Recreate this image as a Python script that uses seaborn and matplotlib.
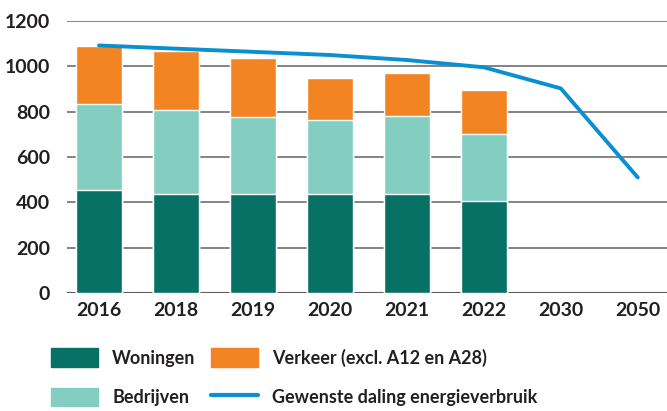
import pandas as pd
import numpy as np
import seaborn as sns
import matplotlib.pyplot as plt
from matplotlib.patches import Patch
from matplotlib.lines import Line2D

# Data
jaren = ['2016', '2018', '2019', '2020', '2021', '2022', '2030', '2050']
jaren_gemeten = ['2016', '2018', '2019', '2020', '2021', '2022']
woningen = [455, 437, 437, 437, 437, 406]
bedrijven = [378, 370, 339, 326, 343, 295]
verkeer = [255, 259, 258, 184, 189, 194]
gewenst = [1091, 1077, 1063, 1049, 1027, 995, 902, 510]

kleur_won = '#077165'
kleur_bed = '#84cec1'
kleur_ver = '#f38423'
kleur_lijn = '#0a8fd0'
tekst = '#231f20'

sns.set_style('white')
plt.rcParams['font.family'] = ['Lato', 'DejaVu Sans']

df = pd.DataFrame({'jaar': jaren_gemeten, 'woningen': woningen,
                   'bedrijven': bedrijven, 'verkeer': verkeer})
df['top_bed'] = df['woningen'] + df['bedrijven']
df['top_ver'] = df['top_bed'] + df['verkeer']

fig = plt.figure(figsize=(6.67, 4.11), dpi=100)
ax = fig.add_axes([0.1, 0.2864, 0.9, 0.6632])

# gestapelde balken (hoogste eerst)
sns.barplot(data=df, x='jaar', y='top_ver', order=jaren, color=kleur_ver,
            width=0.6, saturation=1, ax=ax, zorder=3)
sns.barplot(data=df, x='jaar', y='top_bed', order=jaren, color=kleur_bed,
            width=0.6, saturation=1, ax=ax, zorder=3)
sns.barplot(data=df, x='jaar', y='woningen', order=jaren, color=kleur_won,
            width=0.6, saturation=1, ax=ax, zorder=3)

# gewenste daling
sns.lineplot(x=np.arange(len(jaren)), y=gewenst, color=kleur_lijn,
             linewidth=2.8, ax=ax, zorder=4)

ax.set_ylim(0, 1200)
ax.set_xlim(-0.42, 7.38)
ax.set_yticks(range(0, 1201, 200))
ax.yaxis.grid(True, color='#6d6e71', linewidth=1.2, zorder=0)
ax.set_axisbelow(True)
for s in ax.spines.values():
    s.set_visible(False)
ax.axhline(0, color='#58595b', linewidth=1.5, zorder=2)
ax.set_xlabel('')
ax.set_ylabel('')
ax.tick_params(axis='both', length=0, labelsize=14, labelcolor=tekst)
ax.tick_params(axis='x', pad=6)
ax.tick_params(axis='y', pad=12)
for lbl in ax.get_xticklabels() + ax.get_yticklabels():
    lbl.set_fontweight('bold')

handles = [Patch(color=kleur_won), Patch(color=kleur_bed),
           Patch(color=kleur_ver), Line2D([], [], color=kleur_lijn, linewidth=3)]
labels = ['Woningen', 'Bedrijven', 'Verkeer (excl. A12 en A28)',
          'Gewenste daling energieverbruik']
leg = fig.legend(handles, labels, ncol=2, loc='lower left',
                 bbox_to_anchor=(0.052, -0.028), frameon=False,
                 handlelength=2.6, handleheight=1.2, handletextpad=0.8,
                 columnspacing=0.85, labelspacing=1.15,
                 prop={'size': 13, 'weight': 'bold'})
for t in leg.get_texts():
    t.set_color(tekst)

fig.savefig('out.png', dpi=100)
